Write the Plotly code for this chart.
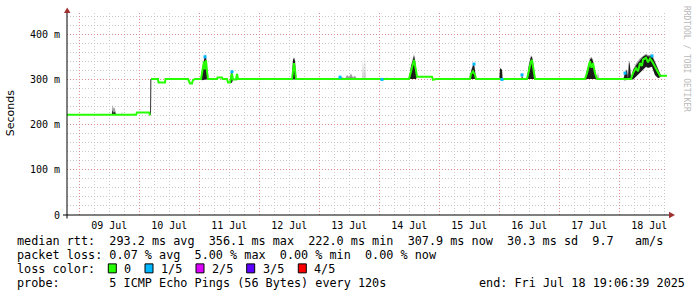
import pandas as pd
import plotly.graph_objects as go

START = pd.Timestamp("2025-07-08 19:06:39")
END = pd.Timestamp("2025-07-18 19:06:39")

# median round trip time (ms); hours after START
MED_H = [0, 27.6, 28.0, 32.8, 33.2, 33.4, 33.5, 33.6, 36.4, 36.6, 39.2, 39.4, 48.4, 49.2, 50.0, 50.4,
         51.2, 53.6, 54.0, 54.8, 55.2, 55.6, 56.0, 56.4, 60.0, 60.2, 62.0, 62.2, 64.0, 64.4, 65.2,
         65.6, 66.0, 66.4, 67.6, 68.0, 68.4, 90.0, 90.4, 90.8, 91.2, 91.6, 136.8, 137.6, 138.4,
         138.8, 139.6, 140.0, 146.0, 146.4, 147.6, 161.2, 161.6, 162.4, 163.2, 163.6, 184.0, 184.8,
         185.6, 186.0, 186.4, 187.2, 207.2, 208.0, 209.2, 209.8, 210.4, 211.2, 212.0, 225.6, 226.4,
         227.6, 228.4, 229.2, 230.0, 230.4, 231.6, 232.4, 233.2, 234.0, 235.2, 236.4, 237.2, 240.0]
MED_MS = [222, 222, 227, 227, 222, 222, None, 301, 301, 293, 293, 301, 301, 291, 291, 299,
          301, 301, 314, 340, 322, 342, 318, 301, 301, 304, 304, 301, 301, 293, 293,
          306, 313, 300, 300, 312, 301, 301, 320, 336, 322, 301, 301, 318, 338,
          343, 320, 306, 306, 299, 301, 301, 312, 318, 310, 301, 301, 322,
          340, 343, 328, 301, 301, 314, 340, 326, 336, 314, 301, 301, 314,
          325, 318, 336, 330, 344, 348, 338, 346, 340, 328, 314, 308, 308]

# smoke (spread of the 5 pings): hours after START, lower edge, upper edge, dark core top
SMK_H = [0, 17.9, 18.2, 18.6, 19.0, 19.4, 19.8, 21.8, 22.0, 22.2, 33.3, 33.4, 33.6, 33.7,
         53.6, 54.0, 54.8, 55.2, 55.6, 56.0, 56.4, 65.2, 65.6, 66.0, 66.4, 67.6, 68.0, 68.4,
         90.0, 90.4, 90.8, 91.2, 91.6, 109.2, 109.6, 110.4, 111.2, 112.0, 112.8, 113.6, 114.4,
         115.2, 116.0, 118.2, 118.4, 118.6, 119.0, 119.2, 119.4, 127.8, 128.0, 128.2, 136.8,
         137.6, 138.4, 138.8, 139.2, 139.6, 140.0, 146.0, 146.2, 161.2, 161.6, 162.4, 162.8,
         163.2, 163.6, 173.0, 173.2, 174.0, 174.2, 181.8, 182.0, 182.4, 184.0, 184.8, 185.6,
         186.0, 186.4, 187.2, 207.2, 208.0, 209.2, 209.8, 210.4, 211.2, 212.0, 212.4, 212.8,
         222.4, 222.8, 223.2, 224.0, 224.4, 224.8, 225.2, 225.6, 226.4, 227.6, 229.2, 230.4,
         231.6, 232.4, 234.0, 235.2, 236.4, 237.2, 237.6, 240.0]
SMK_LO = [222, 222, 222, 222, 222, 222, 222, 222, 222, 222, 222, 222, 222, 301,
          301, 298, 300, 300, 300, 300, 301, 293, 292, 293, 300, 300, 300, 301,
          301, 300, 300, 300, 301, 301, 300, 300, 300, 300, 300, 300, 300,
          300, 301, 301, 300, 301, 301, 300, 301, 301, 300, 301, 301,
          300, 300, 300, 300, 301, 306, 306, 301, 301, 300, 300, 300,
          300, 301, 301, 300, 300, 301, 301, 300, 301, 301, 300, 300,
          300, 300, 301, 301, 300, 300, 300, 300, 300, 301, 300, 301,
          301, 298, 298, 299, 301, 299, 300, 301, 300, 306, 316, 322,
          328, 326, 328, 310, 303, 305, 307, 308]
SMK_HI = [222, 222, 244, 236, 238, 230, 222, 222, 229, 222, 222, 301, 301, 301,
          301, 322, 350, 356, 352, 334, 301, 293, 318, 320, 300, 300, 316, 301,
          301, 346, 349, 344, 301, 301, 306, 304, 302, 310, 306, 313, 305,
          308, 301, 301, 346, 301, 301, 348, 301, 301, 306, 301, 301,
          332, 352, 356, 347, 327, 306, 306, 301, 301, 320, 334, 337,
          322, 301, 301, 326, 322, 301, 301, 311, 301, 301, 337, 353,
          352, 342, 301, 301, 322, 347, 350, 344, 320, 301, 317, 301,
          301, 306, 316, 323, 301, 343, 332, 301, 322, 335, 347, 353,
          357, 354, 355, 340, 324, 313, 309, 308]
CORE_HI = [222, 222, 232, 226, 228, 224, 222, 222, 222, 222, 222, 301, 301, 301,
           301, 318, 346, 353, 348, 328, 301, 293, 314, 316, 300, 300, 313, 301,
           301, 343, 347, 340, 301, 301, 301, 301, 301, 303, 301, 304, 301,
           302, 301, 301, 301, 301, 301, 301, 301, 301, 301, 301, 301,
           328, 348, 352, 342, 322, 306, 306, 301, 301, 317, 330, 333,
           318, 301, 301, 325, 321, 301, 301, 309, 301, 301, 332, 350,
           349, 337, 301, 301, 319, 344, 347, 340, 317, 301, 301, 301,
           301, 305, 314, 321, 301, 340, 329, 301, 319, 331, 343, 350,
           354, 351, 352, 336, 320, 311, 308, 308]

# samples with 1 of 5 pings lost
BLUE_H = [55.2, 66.0, 109.2, 126.0, 162.8, 174.0, 182.0, 223.2, 234.0]
BLUE_MS = [350, 317, 305, 300, 334, 300, 310, 314, 352]

Y_TICKS = [0, 100, 200, 300, 400]
Y_TICKTEXT = ["0", "100 m", "200 m", "300 m", "400 m"]

LOSS_LABELS = ["0", "1/5", "2/5", "3/5", "4/5"]
LOSS_COLORS = ["#26ff00", "#00b8ff", "#dd00ff", "#5e00ff", "#ff0000"]

LEGEND_LINES = [
    "median rtt:  293.2 ms avg  356.1 ms max  222.0 ms min  307.9 ms now  30.3 ms sd  9.7   am/s",
    "packet loss: 0.07 % avg  5.00 % max  0.00 % min  0.00 % now",
    "loss color:",
    "probe:       5 ICMP Echo Pings (56 Bytes) every 120s",
]
END_TEXT = "end: Fri Jul 18 19:06:39 2025"


def to_time(hours):
    return START + pd.to_timedelta(pd.Series(hours, dtype=float), unit="h")


W, H = 697, 297
L, R, T, B = 67, 30, 13, 81.5
PW, PH = W - L - R, H - T - B


def px(x):
    return (x - L) / PW


def py(y):
    return (T + PH - y) / PH


MONO = "DejaVu Sans Mono"
fig = go.Figure()

t_smk = to_time(SMK_H)
fig.add_trace(go.Scatter(x=t_smk, y=SMK_LO, mode="lines", line=dict(width=0), hoverinfo="skip", showlegend=False))
fig.add_trace(go.Scatter(x=t_smk, y=SMK_HI, mode="lines", line=dict(width=0), fill="tonexty",
                         fillcolor="#a0a0a0", hoverinfo="skip", showlegend=False))
fig.add_trace(go.Scatter(x=t_smk, y=SMK_LO, mode="lines", line=dict(width=0), hoverinfo="skip", showlegend=False))
fig.add_trace(go.Scatter(x=t_smk, y=CORE_HI, mode="lines", line=dict(width=0), fill="tonexty",
                         fillcolor="#1a1a1a", hoverinfo="skip", showlegend=False))
fig.add_trace(go.Scatter(x=to_time(MED_H), y=MED_MS, mode="lines", connectgaps=False,
                         line=dict(color=LOSS_COLORS[0], width=2), showlegend=False))
fig.add_trace(go.Scatter(x=to_time(BLUE_H), y=BLUE_MS, mode="markers",
                         marker=dict(symbol="square", size=3, color=LOSS_COLORS[1], line=dict(width=0)),
                         showlegend=False))

MAJOR = "#e08c8c"
MINOR = "#c8c8c8"
fig.update_xaxes(
    type="date", range=[START, END], tick0="2025-07-09", dtick=86400000,
    ticklabelmode="period", tickformat="%d %b", showgrid=True, gridcolor=MAJOR,
    griddash="1px,2px", gridwidth=1, ticks="", zeroline=False, showline=False,
    tickfont=dict(family=MONO, size=10, color="#000"), ticklabelstandoff=3,
    minor=dict(dtick=6 * 3600000, tick0="2025-07-09", showgrid=True, gridcolor=MINOR,
               griddash="1px,2px", gridwidth=1),
)
fig.update_yaxes(
    range=[0, 447], tickmode="array", tickvals=Y_TICKS, ticktext=Y_TICKTEXT,
    showgrid=True, gridcolor=MAJOR, griddash="1px,2px", gridwidth=1, ticks="",
    zeroline=False, showline=False, tickfont=dict(family=MONO, size=10, color="#000"),
    ticklabelstandoff=6,
    minor=dict(dtick=20, showgrid=True, gridcolor=MINOR, griddash="1px,2px", gridwidth=1),
)

shapes = []
# axes lines with rrdtool-style arrows
shapes.append(dict(type="line", xref="paper", yref="paper", x0=px(63), x1=px(669), y0=py(215.5), y1=py(215.5),
                   line=dict(color="#000", width=1)))
shapes.append(dict(type="line", xref="paper", yref="paper", x0=px(67), x1=px(67), y0=py(219), y1=py(12),
                   line=dict(color="#000", width=1)))
shapes.append(dict(type="path", xref="paper", yref="paper", fillcolor="#a03030", line=dict(width=0),
                   path=f"M {px(64)} {py(13)} L {px(70.5)} {py(13)} L {px(67.2)} {py(7.5)} Z"))
shapes.append(dict(type="path", xref="paper", yref="paper", fillcolor="#a03030", line=dict(width=0),
                   path=f"M {px(669)} {py(212.3)} L {px(669)} {py(218.8)} L {px(675)} {py(215.5)} Z"))

annotations = []
ROW_Y = [241.7, 255.5, 269.2, 283.2]
for txt, yy in zip(LEGEND_LINES, ROW_Y):
    annotations.append(dict(text=txt.replace(" ", "&nbsp;"), xref="paper", yref="paper", x=px(16), y=py(yy),
                            xanchor="left", yanchor="middle", showarrow=False, borderpad=0,
                            font=dict(family=MONO, size=11.8, color="#000")))
annotations.append(dict(text=END_TEXT.replace(" ", "&nbsp;"), xref="paper", yref="paper", x=px(478), y=py(283.2),
                        xanchor="left", yanchor="middle", showarrow=False, borderpad=0,
                        font=dict(family=MONO, size=11.8, color="#000")))

SW_X = [108.3, 145.0, 196.0, 246.7, 298.3]
LB_X = [123.0, 160.0, 210.5, 262.0, 313.0]
for lab, col, sx, lx in zip(LOSS_LABELS, LOSS_COLORS, SW_X, LB_X):
    shapes.append(dict(type="rect", xref="paper", yref="paper", x0=px(sx), x1=px(sx + 8),
                       y0=py(273.5), y1=py(264.5), fillcolor=col, line=dict(color="#000", width=1)))
    annotations.append(dict(text=lab, xref="paper", yref="paper", x=px(lx), y=py(269.2),
                            xanchor="left", yanchor="middle", showarrow=False, borderpad=0,
                            font=dict(family=MONO, size=11.8, color="#000")))

annotations.append(dict(text="Seconds", xref="paper", yref="paper", x=px(10.5), y=py(114), textangle=-90,
                        xanchor="center", yanchor="middle", showarrow=False, borderpad=0,
                        font=dict(family="DejaVu Sans", size=11, color="#000")))
annotations.append(dict(text="RRDTOOL / TOBI OETIKER", xref="paper", yref="paper", x=px(686), y=py(59),
                        textangle=90, xanchor="center", yanchor="middle", showarrow=False, borderpad=0,
                        font=dict(family=MONO, size=8, color="#b8b8b8")))

fig.update_layout(
    width=W, height=H, margin=dict(l=L, r=R, t=T, b=B, autoexpand=False),
    paper_bgcolor="#ffffff", plot_bgcolor="#ffffff", showlegend=False,
    shapes=shapes, annotations=annotations,
)

fig.write_html("out.html")
